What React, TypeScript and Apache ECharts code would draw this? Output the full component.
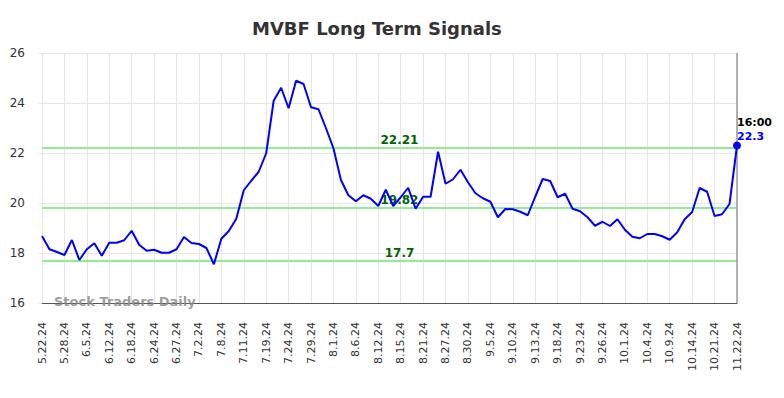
import React, { useEffect, useRef } from "react";
import * as echarts from "echarts";

const TITLE = "MVBF Long Term Signals";
const WATERMARK = "Stock Traders Daily";
const LAST_TIME = "16:00";

const tickLabels = [
  "5.22.24", "5.28.24", "6.5.24", "6.12.24", "6.18.24", "6.24.24", "6.27.24", "7.2.24",
  "7.8.24", "7.11.24", "7.19.24", "7.24.24", "7.29.24", "8.1.24", "8.6.24", "8.12.24",
  "8.15.24", "8.21.24", "8.27.24", "8.30.24", "9.5.24", "9.10.24", "9.13.24", "9.18.24",
  "9.23.24", "9.26.24", "10.1.24", "10.4.24", "10.9.24", "10.14.24", "10.21.24", "11.22.24",
];
const POINTS_PER_TICK = 3;

const prices = [
  18.68, 18.15, 18.04, 17.92, 18.52, 17.72, 18.15, 18.39, 17.89, 18.41,
  18.41, 18.51, 18.89, 18.33, 18.09, 18.13, 18.01, 18.01, 18.15, 18.64,
  18.40, 18.36, 18.20, 17.55, 18.57, 18.88, 19.37, 20.51, 20.89, 21.25,
  21.99, 24.09, 24.61, 23.79, 24.89, 24.76, 23.83, 23.75, 22.99, 22.19,
  20.92, 20.31, 20.07, 20.31, 20.17, 19.88, 20.53, 19.88, 20.23, 20.61,
  19.77, 20.25, 20.25, 22.05, 20.77, 20.95, 21.33, 20.83, 20.39, 20.19,
  20.05, 19.43, 19.76, 19.75, 19.65, 19.51, 20.25, 20.96, 20.88, 20.23,
  20.37, 19.77, 19.67, 19.43, 19.09, 19.25, 19.08, 19.35, 18.93, 18.65,
  18.59, 18.76, 18.76, 18.67, 18.53, 18.83, 19.35, 19.64, 20.60, 20.45,
  19.48, 19.55, 19.96, 22.3,
];

const signalLevels = [22.21, 19.82, 17.7];

const yMin = 16;
const yMax = 26;
const yStep = 2;

export default function App() {
  const ref = useRef<HTMLDivElement>(null);

  useEffect(() => {
    if (!ref.current) return;
    const chart = echarts.init(ref.current, null, { renderer: "svg" });
    const lastIdx = prices.length - 1;
    const lastVal = prices[lastIdx];
    const seriesData = prices.map((v, i) => [i, v]);

    chart.setOption({
      animation: false,
      backgroundColor: "#ffffff",
      title: {
        text: TITLE,
        left: 247,
        top: 14,
        textStyle: {
          fontFamily: "DejaVu Sans",
          fontSize: 18,
          fontWeight: "bold",
          color: "#333333",
        },
      },
      grid: {
        left: 42,
        right: 47,
        top: 53,
        bottom: 95,
        containLabel: false,
        outerBoundsMode: "none",
      },
      xAxis: {
        type: "value",
        min: 0,
        max: lastIdx,
        interval: POINTS_PER_TICK,
        axisLine: { show: true, lineStyle: { color: "#555555", width: 1 } },
        axisTick: { show: false },
        splitLine: { show: true, lineStyle: { color: "#e6e6e6", width: 1 } },
        axisLabel: {
          rotate: 90,
          margin: 19,
          fontFamily: "DejaVu Sans",
          fontSize: 11,
          color: "#333333",
          formatter: (v: number) => {
            const k = Math.round(v / POINTS_PER_TICK);
            return tickLabels[k] ?? "";
          },
        },
      },
      yAxis: {
        type: "value",
        min: yMin,
        max: yMax,
        interval: yStep,
        axisLine: { show: false },
        axisTick: { show: true, length: 3, lineStyle: { color: "#e6e6e6" } },
        splitLine: { show: true, lineStyle: { color: "#e6e6e6", width: 1 } },
        axisLabel: {
          margin: 17,
          fontFamily: "DejaVu Sans",
          fontSize: 12,
          color: "#333333",
        },
      },
      graphic: [
        {
          type: "text",
          left: 54,
          top: 295,
          z: 10,
          style: {
            text: WATERMARK,
            fontFamily: "DejaVu Sans",
            fontSize: 13,
            fontWeight: "bold",
            fill: "rgba(140,140,140,0.85)",
          },
        },
      ],
      series: [
        {
          type: "line",
          data: seriesData,
          showSymbol: false,
          lineStyle: { color: "#0000ff", width: 2 },
          itemStyle: { color: "#0000ff" },
          z: 5,
          markLine: {
            silent: true,
            symbol: "none",
            animation: false,
            data: [
              ...signalLevels.map((lv) => ({
                yAxis: lv,
                lineStyle: { color: "#90ee90", width: 2, type: "solid" },
                label: {
                  show: true,
                  position: "insideMiddleTop",
                  distance: 2,
                  padding: [0, 0, 0, 20],
                  formatter: String(lv),
                  fontFamily: "DejaVu Sans",
                  fontSize: 12,
                  fontWeight: "bold",
                  color: "#006400",
                },
              })),
              {
                xAxis: lastIdx,
                lineStyle: { color: "#999999", width: 1.5, type: "solid" },
                label: { show: false },
              },
            ],
          },
          markPoint: {
            silent: true,
            animation: false,
            data: [
              {
                coord: [lastIdx, lastVal],
                symbol: "circle",
                symbolSize: 8,
                itemStyle: { color: "#0000ff" },
                label: {
                  show: true,
                  position: "top",
                  align: "left",
                  distance: -2,
                  formatter: `{t|${LAST_TIME}}\n{v|${lastVal}}`,
                  rich: {
                    t: {
                      fontFamily: "DejaVu Sans",
                      fontSize: 11,
                      fontWeight: "bold",
                      color: "#000000",
                      lineHeight: 14,
                    },
                    v: {
                      fontFamily: "DejaVu Sans",
                      fontSize: 11,
                      fontWeight: "bold",
                      color: "#0000ff",
                      lineHeight: 14,
                    },
                  },
                },
              },
            ],
          },
        },
      ],
    });

    return () => chart.dispose();
  }, []);

  return (
    <div
      ref={ref}
      style={{ position: "fixed", left: 0, top: 0, width: 784, height: 398 }}
    />
  );
}
